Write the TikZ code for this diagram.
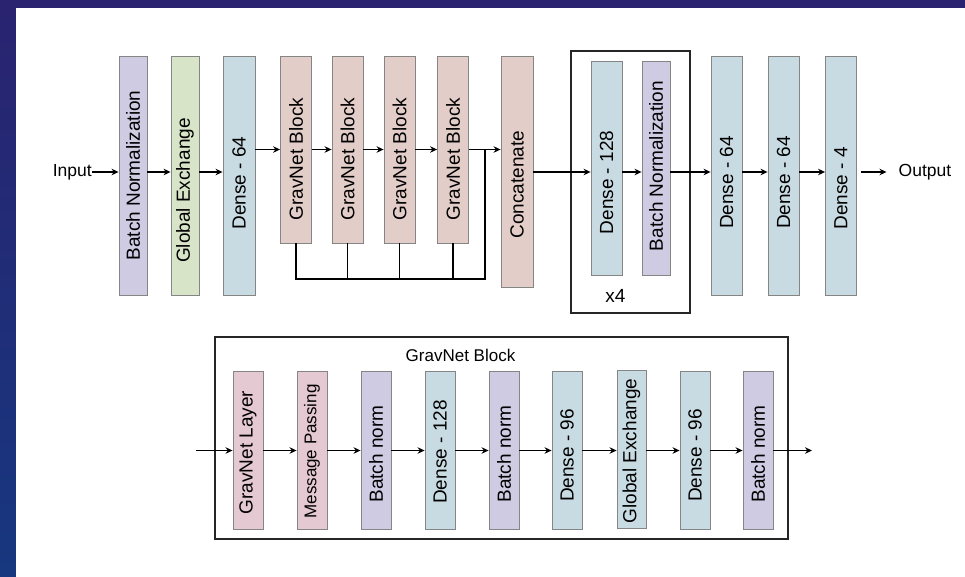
\documentclass[tikz,border=0pt]{standalone}
\usepackage{fontspec}
\setmainfont{Liberation Sans}
\usetikzlibrary{arrows.meta}
\definecolor{bnc}{HTML}{CECBE3}
\definecolor{gec}{HTML}{D8E4C8}
\definecolor{dnc}{HTML}{C9DBE2}
\definecolor{gbc}{HTML}{E3CDC8}
\definecolor{glc}{HTML}{E4C8D2}
\definecolor{bdc}{HTML}{858585}
\definecolor{bgtop}{HTML}{2A2370}
\definecolor{bgbot}{HTML}{17377F}
\newcommand\vlab[2][0]{\rotatebox{90}{\makebox[0pt]{\hspace*{-#1pt}\hspace*{-#1pt}#2}}}
\tikzset{
  blk/.style={draw=bdc, line width=0.9pt, inner sep=0pt, font=\fontsize{19}{22}\selectfont},
  bnb/.style={blk, fill=bnc},
  geb/.style={blk, fill=gec},
  dnb/.style={blk, fill=dnc},
  gbb/.style={blk, fill=gbc},
  glb/.style={blk, fill=glc},
  tall/.style={minimum height=239},
  gvh/.style={minimum height=187},
  subh/.style={minimum width=30, minimum height=158},
  arr/.style={-{Stealth[length=7pt,width=6.5pt]}, line width=1.2pt},
  ln/.style={line width=1.2pt},
  frame/.style={draw=black!85, line width=1.7pt, inner sep=0pt},
  lbl/.style={inner sep=0pt, font=\fontsize{17.5}{21}\selectfont}
}
\begin{document}
\begin{tikzpicture}[x=1pt,y=-1pt]
\useasboundingbox (0,0) rectangle (965,576);
\shade[top color=bgtop, bottom color=bgbot] (0,0) rectangle (965,576);
\fill[white] (16,8) rectangle (972,584);

% ---------- top row ----------
\node[bnb, tall, minimum width=28] (bn1) at (133,175.5) {\vlab{Batch Normalization}};
\node[geb, tall, minimum width=28] (ge1) at (185,175.5) {\vlab[15]{Global Exchange}};
\node[dnb, tall, minimum width=32] (d1) at (239,175.5) {\vlab[7.5]{Dense - 64}};
\node[gbb, gvh, minimum width=31] (g1) at (296,149.5) {\vlab[9.5]{GravNet Block}};
\node[gbb, gvh, minimum width=31] (g2) at (347.5,149.5) {\vlab[9.5]{GravNet Block}};
\node[gbb, gvh, minimum width=31] (g3) at (399.5,149.5) {\vlab[9.5]{GravNet Block}};
\node[gbb, gvh, minimum width=31] (g4) at (453,149.5) {\vlab[9.5]{GravNet Block}};
\node[gbb, minimum width=32, minimum height=231] (cc) at (517,171.5) {\vlab[13]{Concatenate}};

\node[frame, minimum width=119, minimum height=262] (rep) at (630.5,182) {};
\node[dnb, minimum width=31, minimum height=214] (d128) at (606.5,168) {\vlab[14.5]{Dense - 128}};
\node[bnb, minimum width=28, minimum height=214] (bn2) at (656,168) {\vlab[-2]{Batch Normalization}};
\node[inner sep=0pt, font=\fontsize{19}{22}\selectfont] (x4) at (615.5,296) {x4};

\node[dnb, tall, minimum width=31] (d2) at (726.5,175.5) {\vlab[7]{Dense - 64}};
\node[dnb, tall, minimum width=31] (d3) at (783.5,175.5) {\vlab[7]{Dense - 64}};
\node[dnb, tall, minimum width=31] (d4) at (841,175.5) {\vlab[13]{Dense - 4}};

\node[lbl, anchor=east] (inp) at (92,172) {Input};
\node[lbl, anchor=west] (outp) at (898.5,172) {Output};
\coordinate (mainy) at (0,172);
\coordinate (bus) at (485,279);
\coordinate (jn) at (485,149.5);

\draw[arr] (inp.east) -- (inp.east -| bn1.west);
\draw[arr] (bn1.east |- mainy) -- (ge1.west |- mainy);
\draw[arr] (ge1.east |- mainy) -- (d1.west |- mainy);
\draw[arr] (d1.east |- g1.west) -- (g1.west);
\draw[arr] (g1.east) -- (g2.west);
\draw[arr] (g2.east) -- (g3.west);
\draw[arr] (g3.east) -- (g4.west);
\draw[arr] (g4.east) -- (cc.west |- g4.east);
\draw[ln] (g1.south) |- (bus) -- (jn);
\draw[ln] (g2.south) -- (g2.south |- bus);
\draw[ln] (g3.south) -- (g3.south |- bus);
\draw[ln] (g4.south) -- (g4.south |- bus);
\draw[arr] (cc.east |- mainy) -- (d128.west |- mainy);
\draw[arr] (d128.east |- mainy) -- (bn2.west |- mainy);
\draw[arr] (bn2.east |- mainy) -- (d2.west |- mainy);
\draw[arr] (d2.east |- mainy) -- (d3.west |- mainy);
\draw[arr] (d3.east |- mainy) -- (d4.west |- mainy);
\draw[arr] ([xshift=4pt]d4.east |- mainy) -- ([xshift=-12pt]outp.west);

% ---------- GravNet block detail ----------
\node[frame, minimum width=573, minimum height=202] (panel) at (501.5,438) {};
\node[inner sep=0pt, font=\fontsize{17}{20}\selectfont] (ptitle) at (460.5,355) {GravNet Block};
\node[glb, subh] (s1) at (248,450.5) {\vlab[2]{GravNet Layer}};
\node[glb, subh, font=\fontsize{17}{20}\selectfont] (s2) at (312,450.5) {\vlab[1]{Message Passing}};
\node[bnb, subh] (s3) at (376,450.5) {\vlab[3.5]{Batch norm}};
\node[dnb, subh] (s4) at (440,450.5) {\vlab[1.5]{Dense - 128}};
\node[bnb, subh] (s5) at (504,450.5) {\vlab[3.5]{Batch norm}};
\node[dnb, subh] (s6) at (567,450.5) {\vlab[5]{Dense - 96}};
\node[dnb, subh, minimum width=29] (s7) at (631.5,449.5) {\vlab[1.5]{Global Exchange}};
\node[dnb, subh] (s8) at (695,450.5) {\vlab[5]{Dense - 96}};
\node[bnb, subh] (s9) at (758,450.5) {\vlab[3.5]{Batch norm}};
\coordinate (subin) at (196,450.5);
\coordinate (subout) at (812,450.5);

\draw[arr] (subin) -- (s1.west);
\draw[arr] (s1.east) -- (s2.west);
\draw[arr] (s2.east) -- (s3.west);
\draw[arr] (s3.east) -- (s4.west);
\draw[arr] (s4.east) -- (s5.west);
\draw[arr] (s5.east) -- (s6.west);
\draw[arr] (s6.east) -- (s7.west |- s6.east);
\draw[arr] (s7.east |- s8.west) -- (s8.west);
\draw[arr] (s8.east) -- (s9.west);
\draw[arr] (s9.east) -- (subout);
\end{tikzpicture}
\end{document}
